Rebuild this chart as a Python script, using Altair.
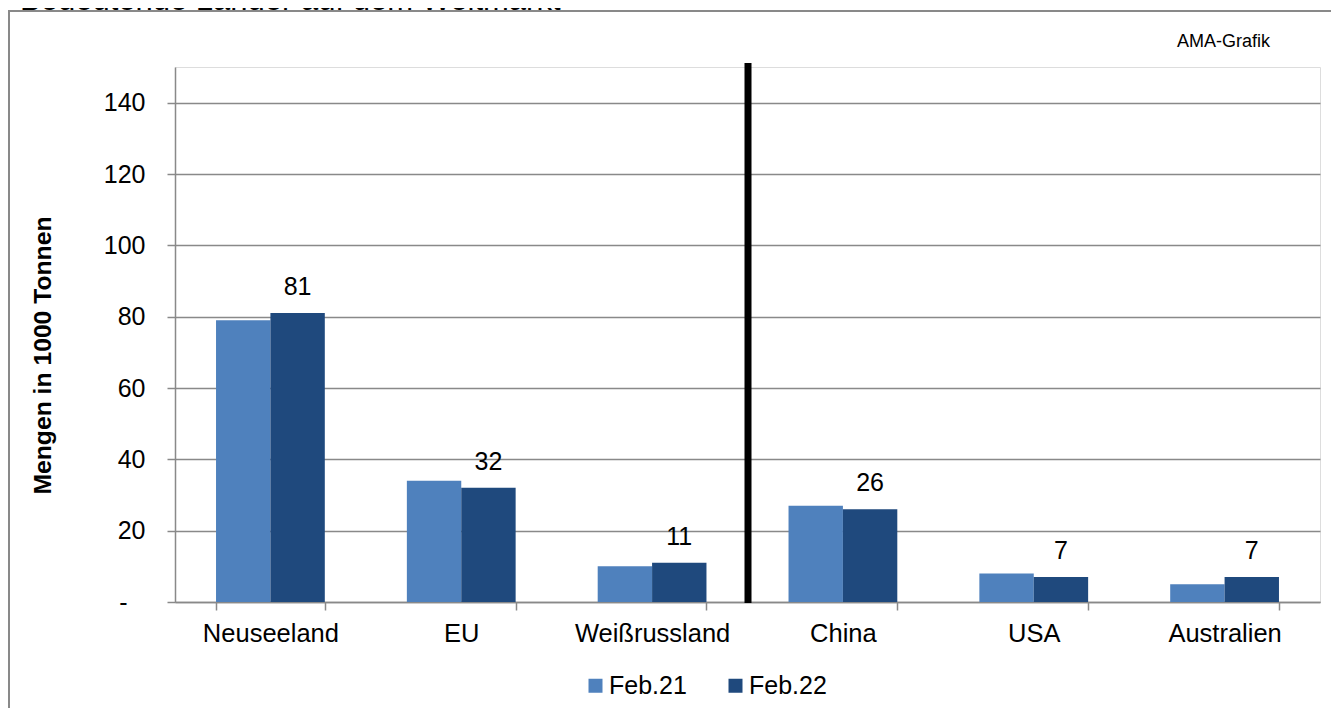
import altair as alt
import pandas as pd

countries = ["Neuseeland", "EU", "Weißrussland", "China", "USA", "Australien"]
series = ["Feb.21", "Feb.22"]
feb21 = [79, 34, 10, 27, 8, 5]
feb22 = [81, 32, 11, 26, 7, 7]
y_ticks = [0, 20, 40, 60, 80, 100, 120, 140]

rows = []
for c, a, b in zip(countries, feb21, feb22):
    rows.append({"Land": c, "Serie": "Feb.21", "Wert": a})
    rows.append({"Land": c, "Serie": "Feb.22", "Wert": b})
df = pd.DataFrame(rows)

FONT = "Liberation Sans"
GRAY = "#898989"
FS = 25

x_enc = alt.X(
    "Land:N",
    sort=countries,
    scale=alt.Scale(paddingInner=0.43, paddingOuter=0.215),
    axis=alt.Axis(
        title=None, labelAngle=0, labelFontSize=25.5, labelColor="#000000",
        labelFont=FONT, tickBand="extent", tickSize=8, tickColor=GRAY,
        tickWidth=1.5, domainColor=GRAY, domainWidth=1.5, labelPadding=11,
        grid=False,
    ),
)
xo_enc = alt.XOffset("Serie:N", sort=series, scale=alt.Scale(paddingInner=0, paddingOuter=0))
y_enc = alt.Y(
    "Wert:Q",
    scale=alt.Scale(domain=[0, 150], nice=False, zero=True),
    axis=alt.Axis(
        values=y_ticks, labelExpr="datum.value == 0 ? '-' : datum.label",
        labelFontSize=FS, labelFont=FONT, labelColor="#000000",
        labelPadding={"condition": {"test": "datum.value == 0", "value": 40}, "value": 22},
        tickSize=8, tickColor=GRAY, tickWidth=1.5, domainColor=GRAY, domainWidth=1.5,
        grid=True, gridColor=GRAY, gridWidth=1.5,
        title="Mengen in 1000 Tonnen", titleFontSize=24.7, titleFont=FONT,
        titleFontWeight="bold", titleColor="#000000", titleAngle=270,
        titleX=-125, titleY=288, titleAlign="center", titleBaseline="alphabetic",
    ),
)

bars = alt.Chart(df).mark_bar().encode(
    x=x_enc,
    xOffset=xo_enc,
    y=y_enc,
    color=alt.Color(
        "Serie:N",
        sort=series,
        scale=alt.Scale(domain=series, range=["#4F81BD", "#1F497D"]),
        legend=alt.Legend(
            title=None, orient="none", direction="horizontal", legendX=408,
            legendY=606, symbolType="square", symbolSize=196, symbolStrokeWidth=0,
            labelFontSize=FS, labelFont=FONT, labelColor="#000000", labelOffset=1,
            columnPadding=36, padding=0,
        ),
    ),
)

labels = alt.Chart(df).transform_filter(alt.datum.Serie == "Feb.22").mark_text(
    fontSize=FS, font=FONT, color="#000000", baseline="alphabetic", dy=-18
).encode(
    x=alt.X("Land:N", sort=countries),
    xOffset=alt.XOffset("Serie:N", sort=series),
    y=alt.Y("Wert:Q"),
    text=alt.Text("Wert:Q"),
)

one = pd.DataFrame({"a": [0]})

divider = alt.Chart(one).mark_rule(color="#000000", strokeWidth=7).encode(
    x=alt.value(573), y=alt.value(-4), y2=alt.value(536)
)

frame = alt.Chart(one).mark_rect(fillOpacity=0, stroke=GRAY, strokeWidth=2).encode(
    x=alt.value(-166), x2=alt.value(3000), y=alt.value(-56), y2=alt.value(3000)
)

title = alt.Chart(one).mark_text(
    text="Bedeutende Länder auf dem Weltmarkt", fontSize=31, font=FONT,
    color="#000000", align="left", baseline="alphabetic"
).encode(x=alt.value(-155), y=alt.value(-57))

source = alt.Chart(one).mark_text(
    text="AMA-Grafik", fontSize=18, font=FONT, color="#000000",
    align="right", baseline="alphabetic"
).encode(x=alt.value(1095), y=alt.value(-20))

chart = alt.layer(frame, bars, labels, divider, title, source).properties(
    width=1145, height=535,
    autosize=alt.AutoSizeParams(type="none"),
    padding={"left": 167, "top": 59, "right": 11, "bottom": 106},
).configure_view(stroke=GRAY, strokeWidth=1.5).configure(font=FONT)

chart.save("out.html", embed_options={"renderer": "svg", "actions": False})
